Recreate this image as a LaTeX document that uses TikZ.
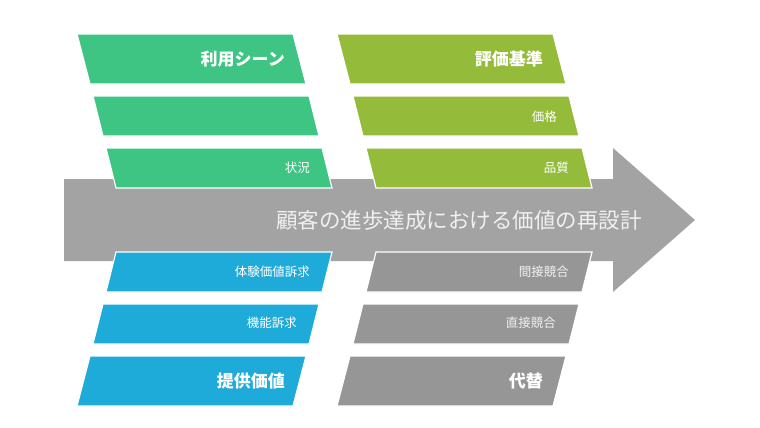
\documentclass[tikz,border=0pt]{standalone}
\usepackage{fontspec}
\setmainfont{Noto Sans CJK JP}
\usetikzlibrary{positioning}
\definecolor{scenegreen}{RGB}{62,197,132}
\definecolor{criteriaolive}{RGB}{148,188,58}
\definecolor{valueblue}{RGB}{31,171,217}
\definecolor{rivalgray}{RGB}{150,150,150}
\definecolor{arrowgray}{RGB}{163,163,163}
\definecolor{titlegray}{RGB}{240,240,240}
\tikzstyle{slab} = [draw=white, line width=1.2pt, line join=miter]
\tikzstyle{headlabel} = [anchor=east, inner sep=0pt, text=white, font=\fontsize{17}{20}\selectfont\bfseries]
\tikzstyle{itemlabel} = [anchor=east, inner sep=0pt, text=white, font=\fontsize{12.5}{15}\selectfont]

\begin{document}
\begin{tikzpicture}[x=1pt, y=-1pt]
	\useasboundingbox (0,0) rectangle (760,428);

	% big arrow
	\fill [arrowgray] (64,179) -- (613,179) -- (613,148) -- (695,220) -- (613,292) -- (613,261) -- (64,261) -- cycle;
	\node (goal) [text=titlegray, font=\fontsize{21.5}{24}\selectfont] at (459,220) {顧客の進歩達成における価値の再設計};

	% scene (green)
	\fill [slab, fill=scenegreen] (77,34) -- (293,34) -- (306,84) -- (90,84) -- cycle;
	\fill [slab, fill=scenegreen] (93,96) -- (309,96) -- (319,136) -- (103,136) -- cycle;
	\fill [slab, fill=scenegreen] (106,148) -- (322,148) -- (332,188) -- (116,188) -- cycle;
	\node (scene) [headlabel] at (285,59) {利用シーン};
	\node (situation) [itemlabel] at (310,168) {状況};

	% criteria (olive)
	\fill [slab, fill=criteriaolive] (337,34) -- (553,34) -- (566,84) -- (350,84) -- cycle;
	\fill [slab, fill=criteriaolive] (353,96) -- (569,96) -- (579,136) -- (363,136) -- cycle;
	\fill [slab, fill=criteriaolive] (366,148) -- (582,148) -- (592,188) -- (376,188) -- cycle;
	\node (criteria) [headlabel] at (543,59) {評価基準};
	\node (price) [itemlabel] at (557,117) {価格};
	\node (quality) [itemlabel] at (569,168) {品質};

	% value (blue)
	\fill [slab, fill=valueblue] (116,252) -- (332,252) -- (322,292) -- (106,292) -- cycle;
	\fill [slab, fill=valueblue] (103,304) -- (319,304) -- (309,344) -- (93,344) -- cycle;
	\fill [slab, fill=valueblue] (90,356) -- (306,356) -- (293,406) -- (77,406) -- cycle;
	\node (experience) [itemlabel] at (310,272) {体験価値訴求};
	\node (function) [itemlabel] at (297,323) {機能訴求};
	\node (value) [headlabel] at (285,381) {提供価値};

	% rivals (gray)
	\fill [slab, fill=rivalgray] (376,252) -- (592,252) -- (582,292) -- (366,292) -- cycle;
	\fill [slab, fill=rivalgray] (363,304) -- (579,304) -- (569,344) -- (353,344) -- cycle;
	\fill [slab, fill=rivalgray] (350,356) -- (566,356) -- (553,406) -- (337,406) -- cycle;
	\node (indirect) [itemlabel, text=titlegray] at (569,272) {間接競合};
	\node (direct) [itemlabel, text=titlegray] at (556,323) {直接競合};
	\node (substitute) [headlabel] at (543,381) {代替};

\end{tikzpicture}
\end{document}
